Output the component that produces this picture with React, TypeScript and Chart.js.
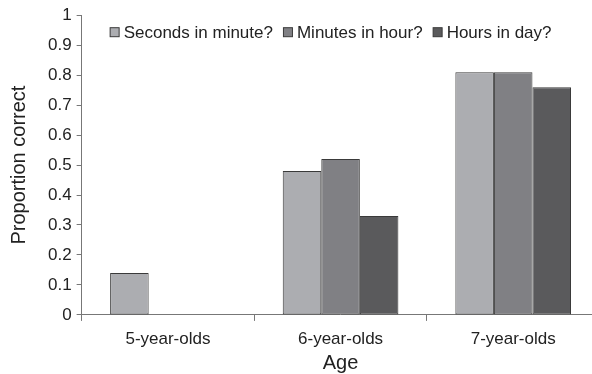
import React, { useEffect, useRef } from "react";
import { Chart, registerables } from "chart.js";

Chart.register(...registerables);

// Age groups on the x axis
const ageGroups = ["5-year-olds", "6-year-olds", "7-year-olds"];

// Question names, used for the legend
const questions = ["Seconds in minute?", "Minutes in hour?", "Hours in day?"];

// Proportion of children answering each question correctly
const secondsInMinute = [0.14, 0.48, 0.81];
const minutesInHour = [0, 0.52, 0.81];
const hoursInDay = [0, 0.33, 0.76];

const yTicks = [0, 0.1, 0.2, 0.3, 0.4, 0.5, 0.6, 0.7, 0.8, 0.9, 1];

const FILLS = ["#acadb1", "#808084", "#5a5a5c"];
const EDGE = "#3a3a3a";
const FONT = "'Liberation Sans', Arial, sans-serif";

// Legend drawn as a single row inside the top of the plot area
const inlineLegend = {
  id: "inlineLegend",
  afterDraw(chart: any) {
    const { ctx, chartArea } = chart;
    ctx.save();
    ctx.font = `17px ${FONT}`;
    ctx.textBaseline = "middle";
    ctx.textAlign = "left";
    let x = chartArea.left + 28;
    const cy = chartArea.top + 17;
    chart.data.datasets.forEach((ds: any) => {
      ctx.fillStyle = ds.backgroundColor;
      ctx.fillRect(x + 0.5, cy - 4.5, 9, 9);
      ctx.strokeStyle = EDGE;
      ctx.lineWidth = 1;
      ctx.strokeRect(x + 0.5, cy - 4.5, 9, 9);
      x += 14;
      ctx.fillStyle = "#222";
      ctx.fillText(ds.label, x, cy + 1);
      x += ctx.measureText(ds.label).width + 10;
    });
    ctx.restore();
  },
};

export default function App() {
  const canvasRef = useRef<HTMLCanvasElement | null>(null);

  useEffect(() => {
    document.body.style.margin = "0";
    document.body.style.overflow = "hidden";
    const canvas = canvasRef.current;
    if (!canvas) return;
    const series = [secondsInMinute, minutesInHour, hoursInDay];
    const chart = new Chart(canvas, {
      type: "bar",
      data: {
        labels: ageGroups,
        datasets: series.map((values, i) => ({
          label: questions[i],
          data: values,
          backgroundColor: FILLS[i],
          borderColor: EDGE,
          borderWidth: 1,
          borderSkipped: false,
        })),
      },
      plugins: [inlineLegend],
      options: {
        responsive: false,
        animation: false,
        devicePixelRatio: 1,
        layout: { padding: { top: 5, right: 4.5, bottom: 0, left: 4 } },
        datasets: {
          bar: { categoryPercentage: 0.67, barPercentage: 1 },
        },
        plugins: {
          tooltip: { enabled: false },
          legend: { display: false },
        },
        scales: {
          x: {
            offset: true,
            grid: {
              display: true,
              offset: true,
              drawOnChartArea: false,
              drawTicks: true,
              tickLength: 6,
              color: "#777",
            },
            border: { display: true, color: "#777", width: 1 },
            ticks: {
              color: "#222",
              padding: 8,
              font: { family: FONT, size: 17 },
            },
            title: {
              display: true,
              text: "Age",
              color: "#222",
              padding: { top: -4.3, bottom: 1 },
              font: { family: FONT, size: 20, lineHeight: 1 },
            },
          },
          y: {
            min: 0,
            max: 1,
            afterBuildTicks: (scale: any) => {
              scale.ticks = yTicks.map((v) => ({ value: v }));
            },
            grid: {
              display: true,
              drawOnChartArea: false,
              drawTicks: true,
              tickLength: 5,
              color: "#777",
            },
            border: { display: true, color: "#777", width: 1 },
            ticks: {
              color: "#222",
              padding: 5,
              font: { family: FONT, size: 17 },
              callback: (v: any) => String(Math.round(Number(v) * 10) / 10),
            },
            title: {
              display: true,
              text: "Proportion correct",
              color: "#222",
              padding: { top: 3, bottom: 12 },
              font: { family: FONT, size: 20, lineHeight: 1.2 },
            },
          },
        },
      },
    } as any);
    return () => chart.destroy();
  }, []);

  return (
    <div
      style={{
        position: "fixed",
        left: 0,
        top: 0,
        width: 592,
        height: 374,
        overflow: "hidden",
        background: "#fff",
      }}
    >
      <canvas
        ref={canvasRef}
        width={604}
        height={374}
        style={{ width: 604, height: 374, display: "block" }}
      />
    </div>
  );
}
